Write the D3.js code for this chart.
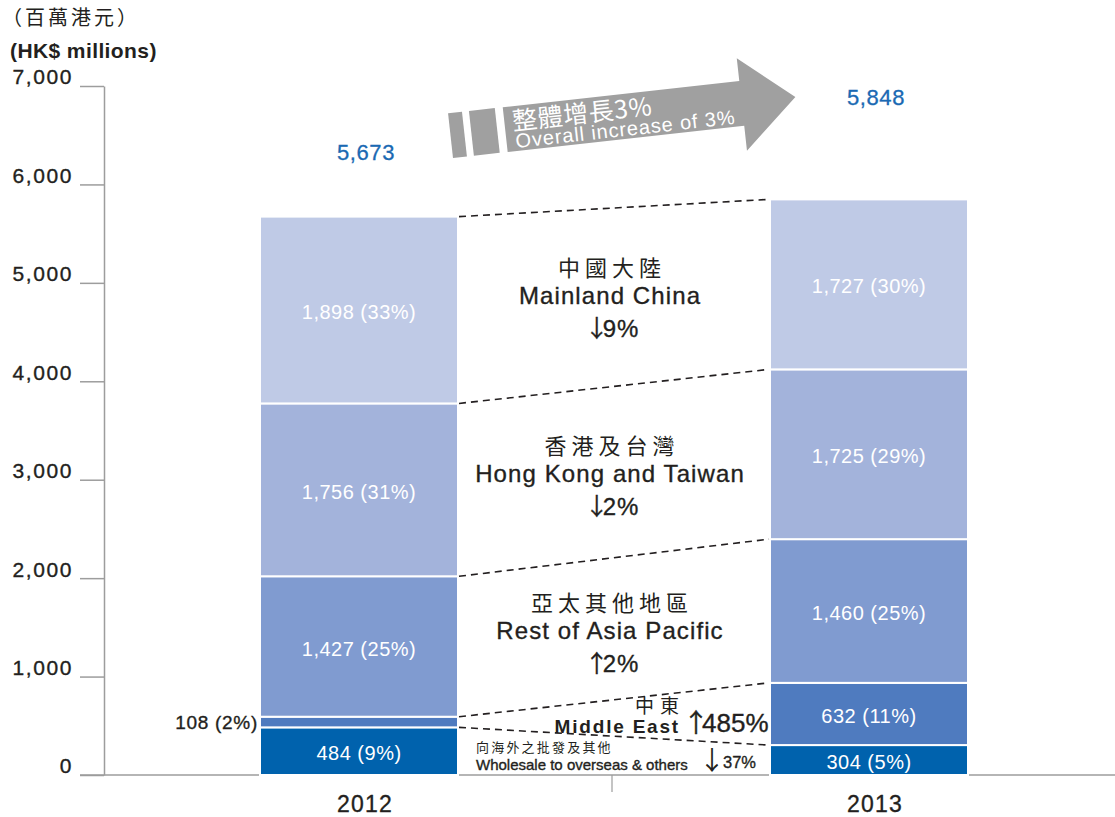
<!DOCTYPE html>
<html>
<head>
<meta charset="utf-8">
<script src="https://cdn.jsdelivr.net/npm/d3@7"></script>
<style>
  body { margin: 0; background: #fff; }
  svg text { font-family: "Liberation Sans", Arial, "Noto Sans CJK TC", sans-serif; }
  .cjk { font-family: "Noto Sans CJK TC", "Liberation Sans", sans-serif; }
  .dark { fill: #231f20; stroke: #231f20; stroke-width: 0.35; }
</style>
</head>
<body>
<div id="chart"></div>
<script>
// data
var years = ["2012", "2013"];
var regions = ["Wholesale to overseas & others", "Middle East", "Rest of Asia Pacific", "Hong Kong and Taiwan", "Mainland China"];
var values2012 = [484, 108, 1427, 1756, 1898];
var values2013 = [304, 632, 1460, 1725, 1727];
var pct2012 = [9, 2, 25, 31, 33];
var pct2013 = [5, 11, 25, 29, 30];
var totals = [5673, 5848];
var yTicks = [0, 1000, 2000, 3000, 4000, 5000, 6000, 7000];
var colors = ["#0062ad", "#4f7bbf", "#809bd0", "#a3b3db", "#bfcae6"];

var W = 1115, H = 817;
var svg = d3.select("#chart").append("svg")
    .attr("width", W)
    .attr("height", H);

var y = d3.scaleLinear().domain([0, 7000]).range([775, 86]);
var x = d3.scaleBand().domain(years).range([106, 1118]);
var barW = 198;
var fmt = d3.format(",");

// axis
var yAxis = d3.axisLeft(y).tickValues(yTicks).tickFormat(fmt).tickSize(24).tickSizeOuter(0).tickPadding(7);
var gy = svg.append("g").attr("transform", "translate(104,0)").call(yAxis);
gy.select(".domain").attr("stroke", "#9d9d9d").attr("stroke-width", 1.5);
gy.selectAll(".tick line").attr("stroke", "#9d9d9d").attr("stroke-width", 1.5);
gy.selectAll(".tick text")
    .attr("class", "dark")
    .attr("font-size", 21)
    .attr("letter-spacing", 1.6)
    .attr("dy", "-0.1em")
    .style("font-family", "'Liberation Sans', Arial, sans-serif");

svg.append("line")
    .attr("x1", 80).attr("x2", W)
    .attr("y1", y(0)).attr("y2", y(0))
    .attr("stroke", "#9d9d9d").attr("stroke-width", 1.5);
svg.append("line")
    .attr("x1", x("2013")).attr("x2", x("2013"))
    .attr("y1", y(0)).attr("y2", y(0) + 17)
    .attr("stroke", "#9d9d9d").attr("stroke-width", 1.2);

// unit labels
svg.append("text").attr("class", "cjk").attr("x", 2).attr("y", 25)
    .attr("font-size", 20).attr("letter-spacing", 3).attr("fill", "#231f20").text("（百萬港元）");
svg.append("text").attr("x", 10).attr("y", 58)
    .attr("font-size", 21).attr("font-weight", "bold").attr("letter-spacing", 0.4)
    .attr("fill", "#231f20").text("(HK$ millions)");

// stacked bars
var series = [values2012, values2013];
var pcts = [pct2012, pct2013];
var stacks = series.map(function (vals) {
    var acc = 0;
    return vals.map(function (v) {
        var s = { y0: acc, y1: acc + v, v: v };
        acc += v;
        return s;
    });
});

years.forEach(function (yr, i) {
    var cx = x(yr) + x.bandwidth() / 2 + (i == 0 ? 0 : 4);
    var g = svg.append("g");
    stacks[i].forEach(function (s, j) {
        g.append("rect")
            .attr("x", cx - barW / 2)
            .attr("y", y(s.y1))
            .attr("width", barW)
            .attr("height", y(s.y0) - y(s.y1))
            .attr("fill", colors[j])
            .attr("stroke", "#fff")
            .attr("stroke-width", 2);
        var lbl = fmt(s.v) + " (" + pcts[i][j] + "%)";
        if (i == 0 && j == 1) {
            g.append("text")
                .attr("class", "dark")
                .attr("x", cx - barW / 2 - 2)
                .attr("y", (y(s.y0) + y(s.y1)) / 2)
                .attr("dy", "0.35em")
                .attr("text-anchor", "end")
                .attr("font-size", 19)
                .attr("letter-spacing", 0.7)
                .text(lbl);
        } else {
            g.append("text")
                .attr("x", cx)
                .attr("y", (y(s.y0) + y(s.y1)) / 2 + 2)
                .attr("dy", "0.35em")
                .attr("text-anchor", "middle")
                .attr("font-size", 20)
                .attr("letter-spacing", 0.5)
                .attr("fill", "#fff")
                .text(lbl);
        }
    });
    // totals
    svg.append("text")
        .attr("x", cx + 7)
        .attr("y", i == 0 ? 160 : 105)
        .attr("text-anchor", "middle")
        .attr("font-size", 22)
        .attr("letter-spacing", 0.6)
        .attr("fill", "#1a69b3")
        .attr("stroke", "#1a69b3").attr("stroke-width", 0.3)
        .text(fmt(totals[i]));
    // year label
    svg.append("text")
        .attr("class", "dark")
        .attr("x", cx + 6)
        .attr("y", 812)
        .attr("text-anchor", "middle")
        .attr("font-size", 23)
        .attr("letter-spacing", 1.2)
        .text(yr);
});

// dashed connectors
var cx0 = x("2012") + x.bandwidth() / 2, cx1 = x("2013") + x.bandwidth() / 2 + 4;
stacks[0].forEach(function (s, j) {
    svg.append("line")
        .attr("x1", cx0 + barW / 2 + 1).attr("y1", y(s.y1))
        .attr("x2", cx1 - barW / 2 - 1).attr("y2", y(stacks[1][j].y1))
        .attr("stroke", "#231f20")
        .attr("stroke-width", 1.6)
        .attr("stroke-dasharray", "7,5");
});

// region annotations
var notes = [
    { zh: "中國大陸", en: "Mainland China", arrow: "↓", ch: "9%", y: 268 },
    { zh: "香港及台灣", en: "Hong Kong and Taiwan", arrow: "↓", ch: "2%", y: 446 },
    { zh: "亞太其他地區", en: "Rest of Asia Pacific", arrow: "↑", ch: "2%", y: 603 }
];
notes.forEach(function (n) {
    svg.append("text").attr("class", "cjk").attr("x", 612).attr("y", n.y + 8)
        .attr("text-anchor", "middle").attr("font-size", 22).attr("fill", "#231f20")
        .attr("letter-spacing", 5).text(n.zh);
    svg.append("text").attr("class", "dark").attr("x", 610).attr("y", n.y + 36)
        .attr("text-anchor", "middle").attr("font-size", 24)
        .attr("letter-spacing", 1.1).text(n.en);
    var t = svg.append("text").attr("class", "dark").attr("x", 604).attr("y", n.y + 69)
        .attr("text-anchor", "middle").attr("font-size", 24).attr("letter-spacing", 0.8);
    t.append("tspan").attr("class", "cjk").attr("font-size", 24).attr("dx", 8).attr("letter-spacing", -6).text(n.arrow);
    t.append("tspan").text(n.ch);
});

// middle east
svg.append("text").attr("class", "cjk").attr("x", 660).attr("y", 713)
    .attr("text-anchor", "middle").attr("font-size", 19).attr("fill", "#231f20")
    .attr("letter-spacing", 6).text("中東");
svg.append("text").attr("x", 680).attr("y", 733)
    .attr("text-anchor", "end").attr("font-size", 19).attr("font-weight", "bold")
    .attr("letter-spacing", 1.8).attr("fill", "#231f20").text("Middle East");
var me = svg.append("text").attr("class", "dark").attr("x", 683).attr("y", 732)
    .attr("font-size", 26);
me.append("tspan").attr("class", "cjk").attr("letter-spacing", -7).text("↑");
me.append("tspan").text("485%");

// wholesale
svg.append("text").attr("class", "cjk").attr("x", 476).attr("y", 752)
    .attr("font-size", 13).attr("fill", "#231f20").attr("letter-spacing", 2.2)
    .text("向海外之批發及其他");
svg.append("text").attr("class", "dark").attr("x", 476).attr("y", 770)
    .attr("font-size", 15).attr("stroke-width", 0.2).text("Wholesale to overseas & others");
svg.append("text").attr("class", "cjk").attr("x", 699).attr("y", 770)
    .attr("font-size", 26).attr("fill", "#231f20").text("↓");
svg.append("text").attr("class", "dark").attr("x", 723).attr("y", 768)
    .attr("font-size", 16.5).attr("stroke-width", 0.2).text("37%");

// growth arrow
var arrow = svg.append("g").attr("transform", "translate(453,158) rotate(-6.3)");
var grey = "#a0a0a0";
arrow.append("rect").attr("x", 0).attr("y", -45).attr("width", 14).attr("height", 45).attr("fill", grey);
arrow.append("rect").attr("x", 21).attr("y", -45).attr("width", 26).attr("height", 45).attr("fill", grey);
arrow.append("path")
    .attr("d", "M55,-45 L293,-45 L293,-68 L347,-23 L293,25 L293,0 L55,0 Z")
    .attr("fill", grey);
arrow.append("text").attr("class", "cjk").attr("x", 63).attr("y", -21)
    .attr("font-size", 25).attr("letter-spacing", 0.6).attr("fill", "#fff").text("整體增長3%");
arrow.append("text").attr("x", 64).attr("y", -3)
    .attr("font-size", 20).attr("letter-spacing", 0.9).attr("fill", "#fff").text("Overall increase of 3%");
</script>
</body>
</html>
